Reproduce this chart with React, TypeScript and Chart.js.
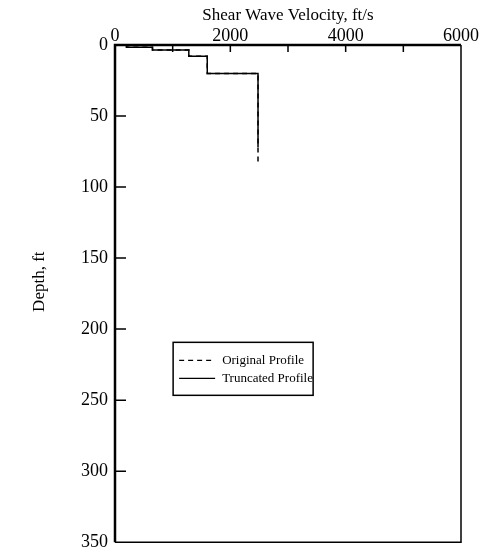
import React, { useEffect, useRef } from "react";
import { Chart, registerables } from "chart.js";

Chart.register(...registerables);

// ---- data ----
const seriesNames = ["Original Profile", "Truncated Profile"];
const velocityOriginal = [200, 200, 650, 650, 1280, 1280, 1600, 1600, 2480, 2480];
const depthOriginal = [0, 1.5, 1.5, 3.5, 3.5, 8, 8, 20, 20, 82];
const velocityTruncated = [200, 200, 650, 650, 1280, 1280, 1600, 1600, 2480, 2480];
const depthTruncated = [0, 1.5, 1.5, 3.5, 3.5, 8, 8, 20, 20, 72];
const xMinorTicks = [1000, 2000, 3000, 4000, 5000];
const yTickValues = [50, 100, 150, 200, 250, 300];
const xTitle = "Shear Wave Velocity, ft/s";
const yTitle = "Depth, ft";

const FONT = "'Liberation Serif', 'Times New Roman', serif";

const framePlugin = {
  id: "frameAndLegend",
  afterDraw(chart: any) {
    const { ctx, chartArea } = chart;
    const { left, top, right, bottom } = chartArea;
    const xs = chart.scales.x;
    const ys = chart.scales.y;
    ctx.save();
    ctx.strokeStyle = "#000";
    // frame
    ctx.lineWidth = 1.5;
    ctx.beginPath();
    ctx.moveTo(right, top);
    ctx.lineTo(right, bottom);
    ctx.lineTo(left, bottom);
    ctx.stroke();
    ctx.lineWidth = 2.5;
    ctx.beginPath();
    ctx.moveTo(left, bottom);
    ctx.lineTo(left, top);
    ctx.lineTo(right, top);
    ctx.stroke();
    // inward ticks
    ctx.lineWidth = 1.5;
    ctx.beginPath();
    for (const v of xMinorTicks) {
      const px = xs.getPixelForValue(v);
      ctx.moveTo(px, top);
      ctx.lineTo(px, top + 7);
    }
    for (const v of yTickValues) {
      const py = ys.getPixelForValue(v);
      ctx.moveTo(left, py);
      ctx.lineTo(left + 11, py);
    }
    ctx.stroke();
    // y axis title
    ctx.fillStyle = "#000";
    ctx.font = "17px " + FONT;
    ctx.textAlign = "center";
    ctx.textBaseline = "middle";
    ctx.save();
    ctx.translate(40, top + 0.476 * (bottom - top));
    ctx.rotate(-Math.PI / 2);
    ctx.fillText(yTitle, 0, 0);
    ctx.restore();
    // legend
    const w = right - left;
    const h = bottom - top;
    const lx = left + 0.168 * w;
    const ly = top + 0.598 * h;
    const lw = 140;
    const lh = 53;
    ctx.fillStyle = "#fff";
    ctx.fillRect(lx, ly, lw, lh);
    ctx.lineWidth = 1.5;
    ctx.strokeRect(lx, ly, lw, lh);
    ctx.font = "13px " + FONT;
    ctx.fillStyle = "#000";
    ctx.textBaseline = "middle";
    ctx.textAlign = "left";
    const rows = [ly + 18, ly + 36];
    seriesNames.forEach((name, i) => {
      ctx.beginPath();
      ctx.lineWidth = 1.2;
      ctx.setLineDash(i === 0 ? [5, 4] : []);
      ctx.moveTo(lx + 6, rows[i]);
      ctx.lineTo(lx + 42, rows[i]);
      ctx.stroke();
      ctx.setLineDash([]);
      ctx.fillText(name, lx + 49, rows[i]);
    });
    ctx.restore();
  },
};

export default function App() {
  const ref = useRef<HTMLCanvasElement | null>(null);
  useEffect(() => {
    document.body.style.margin = "0";
    const canvas = ref.current;
    if (!canvas) return;
    const chart = new Chart(canvas, {
      type: "scatter",
      data: {
        datasets: [
          {
            label: seriesNames[1],
            data: velocityTruncated.map((v, i) => ({ x: v, y: depthTruncated[i] })),
            showLine: true,
            borderColor: "#000",
            borderWidth: 1.5,
            pointRadius: 0,
            order: 0,
          },
          {
            label: seriesNames[0],
            data: velocityOriginal.map((v, i) => ({ x: v, y: depthOriginal[i] })),
            showLine: true,
            borderColor: "#000",
            borderWidth: 1.5,
            borderDash: [5, 4],
            pointRadius: 0,
            order: 1,
          },
        ],
      },
      options: {
        animation: false,
        responsive: false,
        maintainAspectRatio: false,
        layout: { padding: { top: 0, left: 0, right: 22, bottom: 11 } },
        plugins: { legend: { display: false }, tooltip: { enabled: false } },
        scales: {
          x: {
            type: "linear",
            position: "top",
            min: 0,
            max: 6000,
            grid: { display: false, drawTicks: false },
            border: { display: false },
            ticks: {
              stepSize: 2000,
              color: "#000",
              padding: 0,
              maxRotation: 0,
              font: { family: FONT, size: 18, lineHeight: 1 },
              callback: (v: any) => String(v),
            },
            title: {
              display: true,
              text: xTitle,
              color: "#000",
              font: { family: FONT, size: 17 },
              padding: { top: 5, bottom: 0 },
            },
            afterFit: (s: any) => {
              s.height = 45;
            },
          },
          y: {
            type: "linear",
            reverse: true,
            min: 0,
            max: 350,
            grid: { display: false, drawTicks: false },
            border: { display: false },
            ticks: {
              stepSize: 50,
              color: "#000",
              padding: 7,
              font: { family: FONT, size: 18 },
              callback: (v: any) => String(v),
            },
            title: { display: false },
            afterFit: (s: any) => {
              s.width = 115;
            },
          },
        },
      },
      plugins: [framePlugin],
    });
    return () => chart.destroy();
  }, []);
  return (
    <div style={{ position: "absolute", left: 0, top: 0, width: 483, height: 560 }}>
      <canvas ref={ref} width={483} height={560} />
    </div>
  );
}
